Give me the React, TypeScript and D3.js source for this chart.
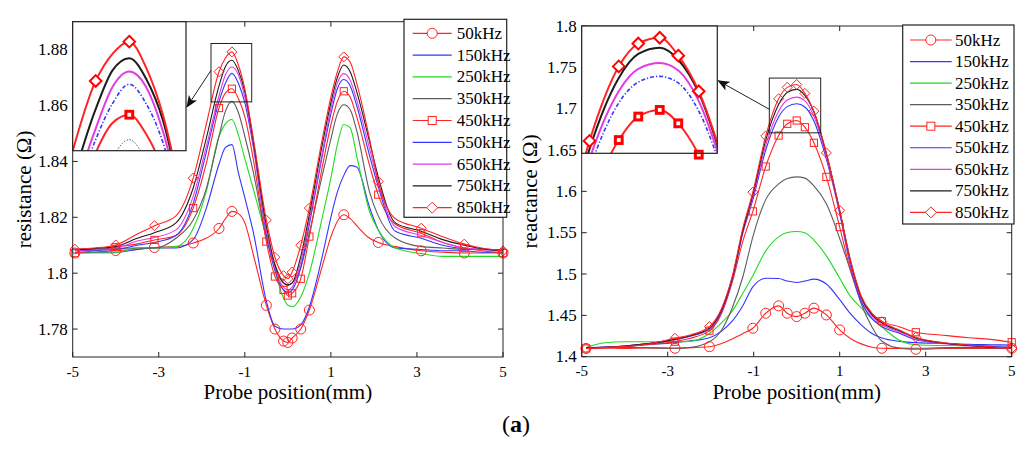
import React from "react";
import * as d3 from "d3";

// frequencies, shared by both panels
const freqs = ["50kHz", "150kHz", "250kHz", "350kHz", "450kHz", "550kHz", "650kHz", "750kHz", "850kHz"];
const colors = ["#ff2424", "#3434ff", "#1edc1e", "#5c5c5c", "#ff2424", "#3434ff", "#e53be5", "#1c1c1c", "#ff2424"];
const shapes = ["circle", null, null, null, "square", null, null, null, "diamond"];
const insetWidths = [2, 2, 2, 1, 2, 1.6, 2, 2, 2];
const insetDash = [null, null, null, "1.5 1.5", null, "4 2 1.2 2", null, null, null];

const xTicks = [-5, -3, -1, 1, 3, 5];

// resistance panel
const resX = [-4.95, -4.5, -4, -3.5, -3.1, -2.6, -2.2, -1.9, -1.6, -1.45, -1.3, -1.15, -1, -0.8, -0.5, -0.3, -0.1, 0, 0.1, 0.3, 0.5, 0.8, 1, 1.15, 1.3, 1.45, 1.6, 1.9, 2.1, 2.5, 3.1, 3.6, 4.1, 4.5, 5];
const resMarkX = [-4.95, -4, -3.1, -2.2, -1.6, -1.3, -0.5, -0.3, -0.1, 0, 0.1, 0.3, 0.5, 1.3, 2.1, 3.1, 4.1, 5];
const res50 = [1.8072, 1.8075, 1.8081, 1.8085, 1.8092, 1.8095, 1.8108, 1.8125, 1.816, 1.8195, 1.8221, 1.8213, 1.818, 1.8065, 1.7885, 1.78, 1.7757, 1.7752, 1.7768, 1.78, 1.7868, 1.8025, 1.813, 1.8185, 1.8209, 1.8195, 1.817, 1.8125, 1.811, 1.8095, 1.808, 1.8075, 1.8072, 1.8072, 1.8072];
const res150 = [1.8075, 1.8075, 1.8075, 1.8085, 1.809, 1.809, 1.812, 1.823, 1.839, 1.845, 1.846, 1.836, 1.827, 1.8145, 1.79, 1.781, 1.78, 1.78, 1.78, 1.7815, 1.788, 1.806, 1.82, 1.829, 1.835, 1.8385, 1.838, 1.8235, 1.8155, 1.809, 1.8085, 1.808, 1.808, 1.8075, 1.8075];
const res250 = [1.8072, 1.8072, 1.8073, 1.809, 1.809, 1.8095, 1.816, 1.829, 1.849, 1.8535, 1.855, 1.8495, 1.841, 1.83, 1.813, 1.801, 1.791, 1.7885, 1.788, 1.7915, 1.8, 1.82, 1.834, 1.846, 1.8532, 1.852, 1.842, 1.822, 1.8155, 1.809, 1.807, 1.806, 1.806, 1.806, 1.806];
const res350 = [1.8085, 1.8085, 1.8088, 1.809, 1.809, 1.8125, 1.819, 1.83, 1.849, 1.858, 1.8615, 1.8575, 1.849, 1.836, 1.8125, 1.803, 1.7965, 1.7955, 1.7965, 1.802, 1.8145, 1.835, 1.848, 1.857, 1.8603, 1.8585, 1.851, 1.829, 1.8205, 1.8125, 1.8095, 1.809, 1.8085, 1.8085, 1.8085];
const res450 = [1.8072, 1.808, 1.8093, 1.8105, 1.8119, 1.8135, 1.8233, 1.839, 1.8591, 1.8645, 1.866, 1.8625, 1.856, 1.8405, 1.8113, 1.7988, 1.794, 1.792, 1.7928, 1.798, 1.8131, 1.838, 1.853, 1.8615, 1.8651, 1.863, 1.856, 1.8385, 1.8281, 1.8175, 1.8143, 1.811, 1.809, 1.808, 1.8072];
const res550 = [1.808, 1.8082, 1.8085, 1.81, 1.811, 1.8135, 1.825, 1.843, 1.8615, 1.868, 1.8715, 1.868, 1.861, 1.845, 1.814, 1.801, 1.794, 1.793, 1.794, 1.802, 1.8175, 1.842, 1.857, 1.866, 1.8693, 1.867, 1.86, 1.842, 1.831, 1.815, 1.8125, 1.81, 1.8088, 1.8085, 1.808];
const res650 = [1.8082, 1.8085, 1.809, 1.8115, 1.8128, 1.8155, 1.8275, 1.845, 1.8635, 1.871, 1.8738, 1.871, 1.863, 1.846, 1.815, 1.802, 1.795, 1.794, 1.795, 1.804, 1.819, 1.843, 1.859, 1.868, 1.8714, 1.869, 1.862, 1.8445, 1.8325, 1.8165, 1.8135, 1.811, 1.809, 1.8085, 1.808];
const res750 = [1.8085, 1.8088, 1.8095, 1.8125, 1.8145, 1.818, 1.8305, 1.848, 1.867, 1.874, 1.8762, 1.8725, 1.865, 1.847, 1.817, 1.803, 1.7965, 1.7958, 1.7965, 1.806, 1.821, 1.846, 1.861, 1.87, 1.8745, 1.872, 1.865, 1.847, 1.8345, 1.818, 1.815, 1.812, 1.81, 1.8088, 1.808];
const res850 = [1.8086, 1.809, 1.8101, 1.814, 1.817, 1.8205, 1.834, 1.853, 1.8721, 1.877, 1.8792, 1.8745, 1.866, 1.848, 1.819, 1.8057, 1.7991, 1.798, 1.8004, 1.81, 1.8233, 1.848, 1.863, 1.872, 1.8774, 1.8755, 1.868, 1.848, 1.8328, 1.8195, 1.8161, 1.813, 1.8104, 1.809, 1.808];
const resTicks = [1.78, 1.8, 1.82, 1.84, 1.86, 1.88];

// reactance panel
const reaX = [-4.9, -4.5, -4, -3.5, -2.83, -2.5, -2.03, -1.75, -1.5, -1.25, -1.02, -0.72, -0.42, -0.22, 0, 0.19, 0.4, 0.69, 1, 1.25, 1.5, 1.75, 1.98, 2.4, 2.77, 3.5, 4, 4.5, 5];
const reaMarkX = [-4.9, -2.83, -2.03, -1.02, -0.72, -0.42, -0.22, 0, 0.19, 0.4, 0.69, 1, 1.98, 2.77, 5];
const rea50 = [1.41, 1.4105, 1.41, 1.4105, 1.4102, 1.411, 1.4121, 1.416, 1.4215, 1.428, 1.4344, 1.4526, 1.4615, 1.4526, 1.4485, 1.4526, 1.4587, 1.4505, 1.4324, 1.422, 1.4155, 1.4115, 1.4102, 1.41, 1.409, 1.41, 1.41, 1.41, 1.4102];
const rea150 = [1.411, 1.4115, 1.4125, 1.4145, 1.417, 1.419, 1.423, 1.431, 1.443, 1.462, 1.4845, 1.4948, 1.4945, 1.4915, 1.4898, 1.4915, 1.4938, 1.488, 1.469, 1.452, 1.4385, 1.428, 1.4225, 1.4185, 1.417, 1.416, 1.415, 1.4145, 1.414];
const rea250 = [1.411, 1.4165, 1.418, 1.418, 1.4182, 1.4185, 1.428, 1.441, 1.455, 1.477, 1.498, 1.528, 1.545, 1.5503, 1.5515, 1.55, 1.541, 1.522, 1.495, 1.473, 1.459, 1.446, 1.436, 1.4195, 1.4145, 1.4135, 1.4133, 1.4133, 1.4133];
const rea350 = [1.411, 1.411, 1.4112, 1.411, 1.4102, 1.411, 1.418, 1.432, 1.459, 1.497, 1.545, 1.59, 1.609, 1.6155, 1.6175, 1.616, 1.6065, 1.585, 1.543, 1.504, 1.464, 1.436, 1.419, 1.4105, 1.4102, 1.411, 1.411, 1.411, 1.411];
const rea450 = [1.41, 1.4105, 1.412, 1.4145, 1.4182, 1.422, 1.4315, 1.452, 1.49, 1.54, 1.5758, 1.63, 1.6675, 1.6817, 1.6857, 1.6776, 1.6587, 1.6175, 1.5568, 1.505, 1.4705, 1.452, 1.443, 1.436, 1.4296, 1.4255, 1.423, 1.421, 1.4175];
const rea550 = [1.4105, 1.4115, 1.413, 1.4155, 1.4205, 1.4245, 1.4335, 1.454, 1.493, 1.55, 1.59, 1.65, 1.69, 1.7025, 1.706, 1.702, 1.685, 1.639, 1.573, 1.51, 1.467, 1.446, 1.4365, 1.428, 1.4205, 1.416, 1.414, 1.4125, 1.4115];
const rea650 = [1.4105, 1.4115, 1.413, 1.4155, 1.421, 1.425, 1.434, 1.455, 1.494, 1.552, 1.593, 1.656, 1.697, 1.7105, 1.714, 1.7095, 1.691, 1.642, 1.575, 1.513, 1.47, 1.449, 1.439, 1.4295, 1.421, 1.4155, 1.413, 1.4115, 1.4105];
const rea750 = [1.4105, 1.4115, 1.413, 1.4155, 1.421, 1.425, 1.4345, 1.456, 1.495, 1.553, 1.596, 1.662, 1.705, 1.7195, 1.7233, 1.716, 1.696, 1.6455, 1.577, 1.516, 1.472, 1.451, 1.441, 1.431, 1.4225, 1.416, 1.4135, 1.4115, 1.4105];
const rea850 = [1.41, 1.411, 1.4125, 1.415, 1.4223, 1.426, 1.4364, 1.458, 1.497, 1.556, 1.599, 1.667, 1.712, 1.7258, 1.7293, 1.7185, 1.697, 1.6465, 1.577, 1.517, 1.4735, 1.4525, 1.4424, 1.432, 1.4235, 1.4165, 1.414, 1.412, 1.41];
const reaTicks = [1.4, 1.45, 1.5, 1.55, 1.6, 1.65, 1.7, 1.75, 1.8];

const FONT = "'Liberation Serif', 'Times New Roman', serif";

type Box = { l: number; t: number; r: number; b: number };
type Range2 = [number, number];

function Mark({ shape, cx, cy, s, sw, color, fill }: { shape: string; cx: number; cy: number; s: number; sw: number; color: string; fill: string }) {
  if (shape === "circle") return <circle cx={cx} cy={cy} r={s} fill={fill} stroke={color} strokeWidth={sw} />;
  if (shape === "square") return <rect x={cx - s} y={cy - s} width={2 * s} height={2 * s} fill={fill} stroke={color} strokeWidth={sw} />;
  return <path d={`M${cx},${cy - s}L${cx + s},${cy}L${cx},${cy + s}L${cx - s},${cy}Z`} fill={fill} stroke={color} strokeWidth={sw} />;
}

type PanelProps = {
  id: string;
  xs: number[];
  series: number[][];
  markX: number[];
  yDomain: Range2;
  yTicks: number[];
  plot: Box;
  inset: Box;
  insetX: Range2;
  insetY: Range2;
  zoomX: Range2;
  zoomY: Range2;
  arrowFrom: number;
  arrowTo: number;
  legend: Box;
  legendRow0: number;
  legendStep: number;
  legendLine: Range2;
  legendText: number;
  yLabel: string;
  yLabelX: number;
  xTickY: number;
};

function Panel(p: PanelProps) {
  const x = d3.scaleLinear().domain([-5, 5]).range([p.plot.l, p.plot.r]);
  const y = d3.scaleLinear().domain(p.yDomain).range([p.plot.b, p.plot.t]);
  const xi = d3.scaleLinear().domain(p.insetX).range([p.inset.l, p.inset.r]);
  const yi = d3.scaleLinear().domain(p.insetY).range([p.inset.b, p.inset.t]);

  const mainLine = d3.line<number>().x((_, j) => x(p.xs[j])).y((v) => y(v)).curve(d3.curveMonotoneX);
  const insetLine = d3.line<number>().x((_, j) => xi(p.xs[j])).y((v) => yi(v)).curve(d3.curveMonotoneX);
  const isMark = (xv: number) => p.markX.some((m) => Math.abs(m - xv) < 1e-6);

  const zx0 = x(p.zoomX[0]);
  const zx1 = x(p.zoomX[1]);
  const zy0 = y(p.zoomY[1]);
  const zy1 = y(p.zoomY[0]);
  const ax1 = zx0;
  const ay1 = zy0 + p.arrowFrom * (zy1 - zy0);
  const ax2 = p.inset.r + 1;
  const ay2 = p.inset.t + p.arrowTo * (p.inset.b - p.inset.t);

  const clipId = `clip-${p.id}`;

  return (
    <g>
      {/* main curves */}
      {p.series.map((vals, i) => (
        <path key={`l${i}`} d={mainLine(vals) || ""} fill="none" stroke={colors[i]} strokeWidth={1.1} />
      ))}
      {p.series.map((vals, i) =>
        shapes[i]
          ? vals.map((v, j) =>
              isMark(p.xs[j]) ? (
                <Mark key={`m${i}-${j}`} shape={shapes[i] as string} cx={x(p.xs[j])} cy={y(v)}
                  s={shapes[i] === "circle" ? 5 : shapes[i] === "square" ? 3.6 : 5} sw={1} color={colors[i]} fill="none" />
              ) : null
            )
          : null
      )}

      {/* axes box and ticks */}
      <rect x={p.plot.l} y={p.plot.t} width={p.plot.r - p.plot.l} height={p.plot.b - p.plot.t} fill="none" stroke="#222" strokeWidth={1} />
      {xTicks.map((t) => (
        <g key={`xt${t}`}>
          <line x1={x(t)} x2={x(t)} y1={p.plot.b} y2={p.plot.b - 5} stroke="#222" />
          <line x1={x(t)} x2={x(t)} y1={p.plot.t} y2={p.plot.t + 5} stroke="#222" />
          <text x={x(t)} y={p.xTickY} textAnchor="middle" fontSize={15} fontFamily={FONT}>{t}</text>
        </g>
      ))}
      {p.yTicks.map((t) => (
        <g key={`yt${t}`}>
          <line x1={p.plot.l} x2={p.plot.l + 5} y1={y(t)} y2={y(t)} stroke="#222" />
          <line x1={p.plot.r} x2={p.plot.r - 5} y1={y(t)} y2={y(t)} stroke="#222" />
          <text x={p.plot.l - 5} y={y(t)} textAnchor="end" dominantBaseline="central" fontSize={17} fontFamily={FONT}>
            {String(+t.toFixed(2))}
          </text>
        </g>
      ))}
      <text x={(p.plot.l + p.plot.r) / 2} y={399} textAnchor="middle" fontSize={21} fontFamily={FONT}>Probe position(mm)</text>
      <text transform={`translate(${p.yLabelX},${(p.plot.t + p.plot.b) / 2}) rotate(-90)`} textAnchor="middle" fontSize={21} fontFamily={FONT}>
        {p.yLabel}
      </text>

      {/* zoom rectangle */}
      <rect x={zx0} y={zy0} width={zx1 - zx0} height={zy1 - zy0} fill="none" stroke="#222" strokeWidth={1} />

      {/* inset */}
      <defs>
        <clipPath id={clipId}>
          <rect x={p.inset.l} y={p.inset.t} width={p.inset.r - p.inset.l} height={p.inset.b - p.inset.t} />
        </clipPath>
      </defs>
      <rect x={p.inset.l} y={p.inset.t} width={p.inset.r - p.inset.l} height={p.inset.b - p.inset.t} fill="#fff" />
      <g clipPath={`url(#${clipId})`}>
        {p.series.map((vals, i) => (
          <path key={`il${i}`} d={insetLine(vals) || ""} fill="none" stroke={colors[i]}
            strokeWidth={insetWidths[i]} strokeDasharray={insetDash[i] || undefined} />
        ))}
      </g>
      {p.series.map((vals, i) =>
        shapes[i] && shapes[i] !== "circle"
          ? vals.map((v, j) => {
              const cx = xi(p.xs[j]);
              const cy = yi(v);
              if (!isMark(p.xs[j]) || cx < p.inset.l + 2 || cx > p.inset.r - 2 || cy < p.inset.t || cy > p.inset.b + 1.8) return null;
              return (
                <Mark key={`im${i}-${j}`} shape={shapes[i] as string} cx={cx} cy={cy}
                  s={shapes[i] === "square" ? 3.4 : 5.8} sw={shapes[i] === "square" ? 3 : 2} color="#f00" fill="#fff" />
              );
            })
          : null
      )}
      <rect x={p.inset.l} y={p.inset.t} width={p.inset.r - p.inset.l} height={p.inset.b - p.inset.t} fill="none" stroke="#222" strokeWidth={1.2} />

      {/* arrow */}
      <line x1={ax1} y1={ay1} x2={ax2} y2={ay2} stroke="#222" strokeWidth={1} markerEnd="url(#arrowHead)" />

      {/* legend */}
      <rect x={p.legend.l} y={p.legend.t} width={p.legend.r - p.legend.l} height={p.legend.b - p.legend.t} fill="#fff" stroke="#222" strokeWidth={1.2} />
      {freqs.map((f, i) => {
        const ly = p.legendRow0 + i * p.legendStep;
        const mid = (p.legendLine[0] + p.legendLine[1]) / 2;
        return (
          <g key={`lg${i}`}>
            <line x1={p.legendLine[0]} x2={p.legendLine[1]} y1={ly} y2={ly} stroke={colors[i]} strokeWidth={1.2} />
            {shapes[i] ? (
              <Mark shape={shapes[i] as string} cx={mid} cy={ly} s={shapes[i] === "circle" ? 5 : shapes[i] === "square" ? 4 : 5.5} sw={1} color={colors[i]} fill="#fff" />
            ) : null}
            <text x={p.legendText} y={ly} dominantBaseline="central" fontSize={17} fontFamily={FONT}>{f}</text>
          </g>
        );
      })}
    </g>
  );
}

export default function App() {
  return (
    <svg width={1024} height={460} style={{ position: "absolute", left: 0, top: 0, background: "#fff" }}>
      <defs>
        <marker id="arrowHead" viewBox="0 0 12 10" refX="11" refY="5" markerWidth="12" markerHeight="10" markerUnits="userSpaceOnUse" orient="auto">
          <path d="M0,0 L12,5 L0,10 L3,5 Z" fill="#111" />
        </marker>
      </defs>
      <Panel
        id="res"
        xs={resX}
        series={[res50, res150, res250, res350, res450, res550, res650, res750, res850]}
        markX={resMarkX}
        yDomain={[1.77, 1.89]}
        yTicks={resTicks}
        plot={{ l: 72.7, t: 21.7, r: 503, b: 357 }}
        inset={{ l: 72.7, t: 21.7, r: 186, b: 150.7 }}
        insetX={[-1.805, -0.794]}
        insetY={[1.8595, 1.8828]}
        zoomX={[-1.786, -0.84]}
        zoomY={[1.8613, 1.8822]}
        arrowFrom={0.46}
        arrowTo={0.66}
        legend={{ l: 404, t: 19.3, r: 506.7, b: 217.3 }}
        legendRow0={33.3}
        legendStep={21.8}
        legendLine={[412.7, 451.7]}
        legendText={456.7}
        yLabel="resistance (Ω)"
        yLabelX={31}
        xTickY={377}
      />
      <Panel
        id="rea"
        xs={reaX}
        series={[rea50, rea150, rea250, rea350, rea450, rea550, rea650, rea750, rea850]}
        markX={reaMarkX}
        yDomain={[1.4, 1.8]}
        yTicks={reaTicks}
        plot={{ l: 581.7, t: 26, r: 1011.7, b: 356.7 }}
        inset={{ l: 581.7, t: 26, r: 717.3, b: 153.3 }}
        insetX={[-0.8, 0.59]}
        insetY={[1.6595, 1.7364]}
        zoomX={[-0.637, 0.558]}
        zoomY={[1.6708, 1.737]}
        arrowFrom={0.57}
        arrowTo={0.43}
        legend={{ l: 902.7, t: 25, r: 1014, b: 224 }}
        legendRow0={40}
        legendStep={21.55}
        legendLine={[910, 951.7]}
        legendText={955}
        yLabel="reactance (Ω)"
        yLabelX={537}
        xTickY={376}
      />
      <text x={516} y={432} textAnchor="middle" fontSize={24} fontFamily={FONT}>
        (<tspan fontWeight="bold">a</tspan>)
      </text>
    </svg>
  );
}
